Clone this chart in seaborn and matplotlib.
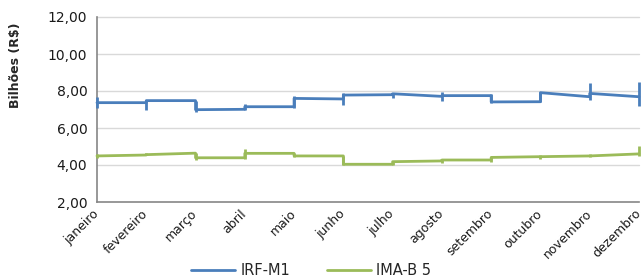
import matplotlib
matplotlib.use("Agg")
import matplotlib.pyplot as plt
import matplotlib.transforms as mtransforms
import seaborn as sns
import pandas as pd
from matplotlib.lines import Line2D

meses = ["janeiro", "fevereiro", "março", "abril", "maio", "junho",
         "julho", "agosto", "setembro", "outubro", "novembro", "dezembro"]

# IRF-M1: value at start / end of each monthly segment, and monthly range
irf_inicio = [7.37, 7.48, 6.99, 7.15, 7.60, 7.78, 7.85, 7.75, 7.41, 7.91, 7.87]
irf_fim = [7.37, 7.48, 7.01, 7.15, 7.57, 7.80, 7.71, 7.75, 7.42, 7.69, 7.69]
irf_min = [7.10, 6.97, 6.88, 6.97, 7.06, 7.24, 7.60, 7.46, 7.37, 7.40, 7.51, 7.19]
irf_max = [7.66, 7.51, 7.48, 7.30, 7.73, 7.87, 7.87, 7.96, 7.84, 7.93, 8.45, 8.50]

# IMA-B 5
ima_inicio = [4.49, 4.56, 4.39, 4.63, 4.49, 4.04, 4.18, 4.27, 4.41, 4.45, 4.49]
ima_fim = [4.54, 4.64, 4.39, 4.63, 4.49, 4.04, 4.22, 4.27, 4.45, 4.49, 4.60]
ima_min = [4.36, 4.52, 4.27, 4.32, 4.45, 4.00, 4.00, 4.09, 4.18, 4.31, 4.42, 4.49]
ima_max = [4.60, 4.67, 4.66, 4.85, 4.63, 4.49, 4.18, 4.27, 4.45, 4.54, 4.60, 5.03]

series = [("IRF-M1", irf_inicio, irf_fim, irf_min, irf_max),
          ("IMA-B 5", ima_inicio, ima_fim, ima_min, ima_max)]
cores = {"IRF-M1": "#4A7EBB", "IMA-B 5": "#9BBB59"}

rows = []
for nome, ini, fim, _, _ in series:
    for i in range(len(ini)):
        rows.append({"serie": nome, "x": i, "y": ini[i]})
        rows.append({"serie": nome, "x": i + 1, "y": fim[i]})
df = pd.DataFrame(rows)

sns.set_theme(style="white")
plt.rcParams["font.family"] = ["DejaVu Sans"]

fig = plt.figure(figsize=(6.43, 2.80), dpi=100)
ax = fig.add_axes([97 / 643, 1 - 202 / 280, (639 - 97) / 643, (202 - 17) / 280])

for y in [4, 6, 8, 10, 12]:
    ax.axhline(y, color="#D9D9D9", lw=1.0, zorder=0)

sns.lineplot(data=df, x="x", y="y", hue="serie", palette=cores, sort=False,
             estimator=None, lw=2.0, ax=ax, legend=False, zorder=3)
for ln in ax.lines:
    ln.set_clip_on(False)

for nome, _, _, lo, hi in series:
    ax.vlines(range(len(meses)), lo, hi, color=cores[nome], lw=2.0, zorder=3,
              clip_on=False)

ax.set_xlim(0, 11)
ax.set_ylim(2, 12)
ax.set_yticks([2, 4, 6, 8, 10, 12])
ax.set_yticklabels([f"{v:.2f}".replace(".", ",") for v in [2, 4, 6, 8, 10, 12]],
                   fontsize=10, color="#1a1a1a")
ax.set_xticks(range(len(meses)))
ax.set_xticklabels(meses, rotation=45, ha="right", va="center",
                   rotation_mode="anchor", fontsize=9, color="#1a1a1a")
shift = mtransforms.ScaledTranslation(-2 / 100, -9 / 100, fig.dpi_scale_trans)
for lbl in ax.get_xticklabels():
    lbl.set_transform(lbl.get_transform() + shift)
ax.tick_params(axis="x", length=5, width=1, color="#868686", pad=2)
ax.tick_params(axis="y", length=4, width=1, color="#868686", pad=3)
ax.set_xlabel("")
ax.set_ylabel("")
for s in ["top", "right"]:
    ax.spines[s].set_visible(False)
for s in ["left", "bottom"]:
    ax.spines[s].set_color("#868686")
    ax.spines[s].set_linewidth(1.2)

fig.text(16 / 643, 1 - 65 / 280, "Bilhões (R$)", rotation=90, fontsize=9,
         fontweight="bold", ha="center", va="center")

handles = [Line2D([], [], color=cores[n], lw=2.0) for n, *_ in series]
fig.legend(handles, [n for n, *_ in series], loc="center", ncol=2,
           bbox_to_anchor=(0.484, 0.035), frameon=False, fontsize=10.5,
           handlelength=3.0, columnspacing=2.5, handletextpad=0.4)

fig.savefig("out.png", dpi=100)
